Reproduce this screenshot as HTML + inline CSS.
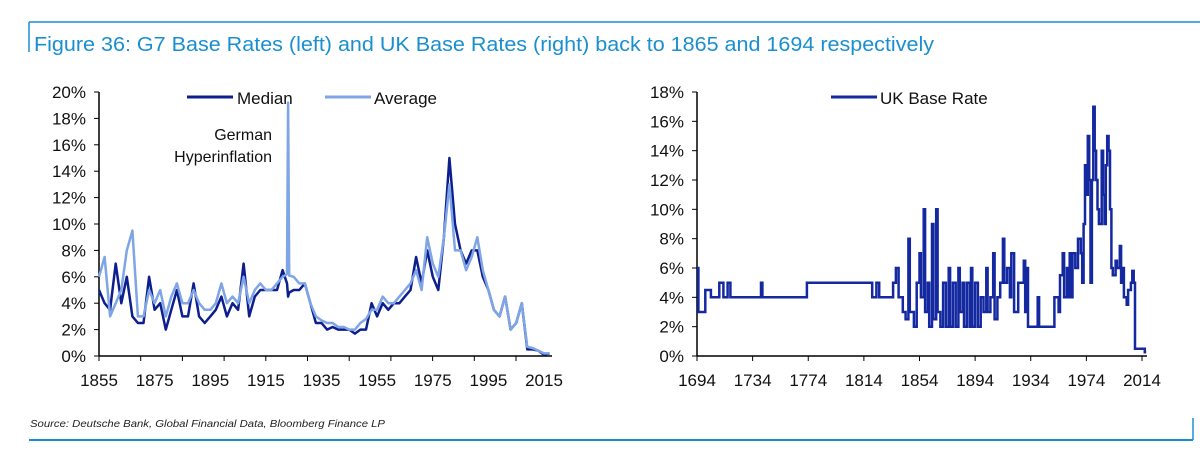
<!DOCTYPE html>
<html><head><meta charset="utf-8">
<style>
html,body{margin:0;padding:0;background:#fff;}
body{width:1200px;height:462px;overflow:hidden;position:relative;font-family:"Liberation Sans",sans-serif;}
svg{position:absolute;left:0;top:0;}
</style></head>
<body>
<svg id="chart" width="1200" height="462" viewBox="0 0 1200 462" xmlns="http://www.w3.org/2000/svg">
  <line x1="29" y1="22" x2="1200" y2="22" stroke="#1a8fd0" stroke-width="1.5"/>
  <line x1="29" y1="22" x2="29" y2="52" stroke="#1a8fd0" stroke-width="1.5"/>
  <text x="34" y="51" font-size="20" fill="#1a8fd0" textLength="900" lengthAdjust="spacingAndGlyphs" font-family="Liberation Sans, sans-serif">Figure 36: G7 Base Rates (left) and UK Base Rates (right) back to 1865 and 1694 respectively</text>
  <text x="30" y="427" font-size="10.5" font-style="italic" fill="#222" textLength="355" lengthAdjust="spacingAndGlyphs" font-family="Liberation Sans, sans-serif">Source: Deutsche Bank, Global Financial Data, Bloomberg Finance LP</text>
  <line x1="29" y1="440" x2="1193" y2="440" stroke="#1a8fd0" stroke-width="2"/>
  <line x1="1193" y1="418" x2="1193" y2="440" stroke="#1a8fd0" stroke-width="1.5"/>
  <g id="left"></g>
  <g id="right"></g>
</svg>
<script>
// Left chart data
const g7Years = [1855,1857,1859,1861,1863,1865,1867,1869,1871,1873,1875,1877,1879,1881,1883,1885,1887,1889,1891,1893,1895,1897,1899,1901,1903,1905,1907,1909,1911,1913,1915,1917,1919,1921,1922.6,1923,1923.4,1925,1927,1929,1931,1933,1935,1937,1939,1941,1943,1945,1947,1949,1951,1953,1955,1957,1959,1961,1963,1965,1967,1969,1971,1973,1975,1977,1979,1981,1983,1985,1987,1989,1991,1993,1995,1997,1999,2001,2003,2005,2007,2009,2011,2013,2015,2017];
const g7Median = [5,4,3.5,7,4,6,3,2.5,2.5,6,3.5,4,2,3.5,5,3,3,5.5,3,2.5,3,3.5,4.5,3,4,3.5,7,3,4.5,5,5,5,5,6.5,5.5,4.5,4.8,5,5,5.5,4,2.5,2.5,2,2.2,2,2,2,1.7,2,2,4,3,4,3.5,4,4,4.5,5,7.5,5.5,8,6,5,9,15,10,8,7,8,8,6,5,3.5,3,4.5,2,2.5,4,0.5,0.5,0.4,0.1,0.2];
const g7Average = [6,7.5,3,4,5,8,9.5,3,3,5,4,5,3,4.5,5.5,4,4,5,4,3.5,3.5,4,5.5,4,4.5,4,6,4,5,5.5,5,5,5.5,6,6.2,19.2,6.1,6,5.5,5.5,4,3,2.7,2.5,2.5,2.2,2.2,2,2,2.5,2.8,3.5,3.5,4.5,4,4,4.5,5,5.5,6.5,5,9,7,6,9,13,8,8,6.5,7.5,9,6.5,5,3.5,3,4.5,2,2.5,4,0.7,0.6,0.4,0.2,0.2];
const g7XLabels = [1855,1875,1895,1915,1935,1955,1975,1995,2015];
const g7YTicks = [0,2,4,6,8,10,12,14,16,18,20];
// Right chart data (step changes)
const ukYears = [1694,1695,1700,1704,1710,1713,1716,1718,1740,1741,1773,1820,1823,1825,1835,1837,1839,1842,1844,1846,1847,1850,1852,1854,1855,1857,1858,1860,1861,1863,1864,1866,1867,1869,1871,1873,1875,1876,1878,1880,1882,1883,1885,1886,1888,1890,1891,1892,1894,1896,1898,1900,1902,1903,1905,1907,1908,1910,1912,1914,1915,1917,1919,1920,1922,1925,1929,1930,1931,1932,1939,1940,1951,1954,1955,1957,1958,1960,1961,1962,1963,1964,1966,1968,1970,1971,1972,1973,1974,1975,1976,1977,1978,1979,1980,1981,1982,1983,1985,1986,1987,1988,1989,1990,1991,1992,1993,1995,1996,1998,1999,2000,2001,2002,2003,2004,2005,2006,2007,2008,2009,2016,2017];
const ukRate = [6,3,4.5,4,5,4,5,4,5,4,5,4,5,4,5,6,4,3,2.5,8,3,2,5,7,4,10,3,5,2,9,2.5,10,3,2,5,2,6,2,5,2,6,3,5,2,5,2,6,2,5,2,4,3,6,3,4,7,2.5,4,5,8,5,6,4,7,3,5,6.5,3,6,2,4,2,4,3,5.5,7,4,6,4,7,4,7,6,8,7,5,9,13,11,15,12,5,12,17,14,12,10,9,14,11,9,13,15,14,10,6,5.5,6.5,6,7.5,5,6,4,4,3.5,4.5,4.5,5,5.8,5,0.5,0.25,0.25];
const ukXLabels = [1694,1734,1774,1814,1854,1894,1934,1974,2014];
const ukYTicks = [0,2,4,6,8,10,12,14,16,18];

const NS = 'http://www.w3.org/2000/svg';
function mk(parent, tag, attrs) {
  const e = document.createElementNS(NS, tag);
  for (const k in attrs) e.setAttribute(k, attrs[k]);
  parent.appendChild(e);
  return e;
}

// Left axes
const L = document.getElementById('left');
const lx = y => 99 + (y - 1855) * (445 / 160);
const ly = v => 356 - v * (264 / 20);
const lAxisY = mk(L, 'line', {x1: 99, y1: ly(20), x2: 99, y2: 356, stroke: '#000', 'stroke-width': 1.5});


const lAxisX = mk(L, 'line', {x1: 99, y1: 356, x2: 552, y2: 356, stroke: '#000', 'stroke-width': 1.5});


g7YTicks.forEach(v => {
  const t = mk(L, 'line', {x1: 94, y1: ly(v), x2: 99, y2: ly(v), stroke: '#000', 'stroke-width': 1});
  
  
  const tx = mk(L, 'text', {x: 86, y: ly(v) + 6, 'font-size': 17, 'text-anchor': 'end', fill: '#111'});
  tx.textContent = v + '%';
  
  
});
for (let x = 99; x <= 553; x += 41.7) {
  const t = mk(L, 'line', {x1: x, y1: 356, x2: x, y2: 361, stroke: '#000', 'stroke-width': 1});
  
  
}
g7XLabels.forEach(yr => {
  const tx = mk(L, 'text', {x: lx(yr), y: 386, 'font-size': 17, 'text-anchor': 'middle', fill: '#111'});
  tx.textContent = yr;
  
  
});
function pathOf(xs, vs, fx, fy) { return xs.map((x, i) => (i ? 'L' : 'M') + fx(x).toFixed(1) + ' ' + fy(vs[i]).toFixed(1)).join(' '); }
const med = mk(L, 'path', {d: pathOf(g7Years, g7Median, lx, ly), fill: 'none', stroke: '#0d1f8f', 'stroke-width': 2.5, 'stroke-linejoin': 'round'});


const avg = mk(L, 'path', {d: pathOf(g7Years, g7Average, lx, ly), fill: 'none', stroke: '#7fa5e6', 'stroke-width': 2.5, 'stroke-linejoin': 'round'});


// legend
const lg1 = mk(L, 'line', {x1: 187, y1: 97, x2: 233, y2: 97, stroke: '#0d1f8f', 'stroke-width': 3});


const lt1 = mk(L, 'text', {x: 237, y: 104, 'font-size': 17, fill: '#111'});
lt1.textContent = 'Median';


const lg2 = mk(L, 'line', {x1: 325, y1: 97, x2: 371, y2: 97, stroke: '#7fa5e6', 'stroke-width': 3});


const lt2 = mk(L, 'text', {x: 374, y: 104, 'font-size': 17, fill: '#111'});
lt2.textContent = 'Average';


const a1 = mk(L, 'text', {x: 272, y: 140, 'font-size': 16, 'text-anchor': 'end', fill: '#111'});
a1.textContent = 'German';


const a2 = mk(L, 'text', {x: 272, y: 162, 'font-size': 16, 'text-anchor': 'end', fill: '#111'});
a2.textContent = 'Hyperinflation';



// Right axes
const R = document.getElementById('right');
const rx = y => 697 + (y - 1694) * (445 / 320);
const ry = v => 356 - v * (264 / 18);
const rAxisY = mk(R, 'line', {x1: 697, y1: ry(18), x2: 697, y2: 356, stroke: '#000', 'stroke-width': 1.5});


const rAxisX = mk(R, 'line', {x1: 697, y1: 356, x2: 1147, y2: 356, stroke: '#000', 'stroke-width': 1.5});


ukYTicks.forEach(v => {
  const t = mk(R, 'line', {x1: 692, y1: ry(v), x2: 697, y2: ry(v), stroke: '#000', 'stroke-width': 1});
  
  
  const tx = mk(R, 'text', {x: 684, y: ry(v) + 6, 'font-size': 17, 'text-anchor': 'end', fill: '#111'});
  tx.textContent = v + '%';
  
  
});
ukXLabels.forEach(yr => {
  const t = mk(R, 'line', {x1: rx(yr), y1: 356, x2: rx(yr), y2: 361, stroke: '#000', 'stroke-width': 1});
  
  
  const tx = mk(R, 'text', {x: rx(yr), y: 386, 'font-size': 17, 'text-anchor': 'middle', fill: '#111'});
  tx.textContent = yr;
  
  
});
let d = '';
ukYears.forEach((yr, i) => {
  const x = rx(yr).toFixed(1), y = ry(ukRate[i]).toFixed(1);
  if (i === 0) d += 'M' + x + ' ' + y;
  else d += ' L' + x + ' ' + ry(ukRate[i - 1]).toFixed(1) + ' L' + x + ' ' + y;
});
const uk = mk(R, 'path', {d: d, fill: 'none', stroke: '#1428a0', 'stroke-width': 2.5});


const rg = mk(R, 'line', {x1: 831, y1: 97, x2: 877, y2: 97, stroke: '#1428a0', 'stroke-width': 3});


const rt = mk(R, 'text', {x: 880, y: 104, 'font-size': 17, fill: '#111'});
rt.textContent = 'UK Base Rate';


</script>
</body></html>
